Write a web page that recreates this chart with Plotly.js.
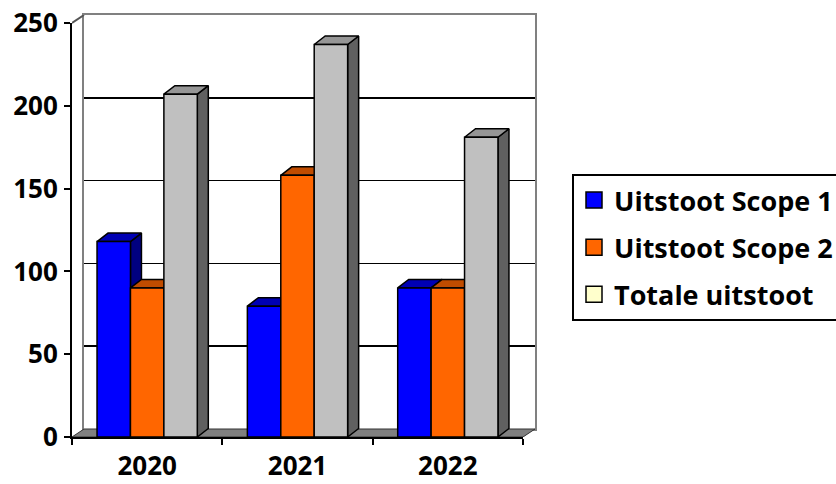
<!DOCTYPE html>
<html><head><meta charset="utf-8">
<script src="https://cdn.plot.ly/plotly-3.0.1.min.js"></script>
<style>html,body{margin:0;padding:0;background:#fff}</style>
</head><body><div id="chart" style="width:836px;height:484px"></div>
<script>
const categories = ['2020', '2021', '2022'];
const seriesNames = ['Uitstoot Scope 1', 'Uitstoot Scope 2', 'Totale uitstoot'];
const scope1 = [118, 79, 90];
const scope2 = [90, 158, 90];
const totaal = [207, 237, 181];
const yTickVals = [0, 50, 100, 150, 200, 250];

const frontColors = ['#0000FF', '#FF6600', '#C0C0C0'];
const topColors = ['#0000B4', '#C04C00', '#969696'];
const sideColors = ['#000080', '#993D00', '#606060'];
const legendColors = ['#0000FF', '#FF6600', '#FFFFCC'];

const W = 836, H = 484, L = 72, R = 301, T = 15, B = 47;
const pw = W - L - R, ph = H - T - B;
const wallDx = 12, wallDy = 8, barDx = 11, barDy = 8.5;
const frontW = pw - wallDx, frontH = ph - wallDy;
const yMax = 250;
const xPx = frontW / categories.length;
const yPx = frontH / yMax;
const x2range = [-0.5, -0.5 + pw / xPx];
const y2range = [0, ph / yPx];
const bargap = 0.333;
const w = (1 - bargap) / 3;
const bdx = barDx / xPx, bdy = barDy / yPx, wdx = wallDx / xPx, wdy = wallDy / yPx;

const font = {family: '"Open Sans", Lato, sans-serif', size: 26, color: '#000', weight: 'bold'};
const legendFont = {family: '"Open Sans", Lato, sans-serif', size: 27, color: '#000', weight: 'bold'};
const series = [scope1, scope2, totaal];
const traces = [];
const n = categories.length;

// back wall subplot holder (no visible marks)
traces.push({type: 'scatter', xaxis: 'x', yaxis: 'y', mode: 'markers', x: [null], y: [null], showlegend: false, hoverinfo: 'skip'});

// floor
traces.push({type: 'scatter', xaxis: 'x2', yaxis: 'y2', mode: 'lines', fill: 'toself',
  x: [-0.5, n - 0.5, n - 0.5 + wdx, -0.5 + wdx, -0.5], y: [0, 0, wdy, wdy, 0],
  fillcolor: '#808080', line: {color: '#333', width: 1}, showlegend: false, hoverinfo: 'skip'});
// left wall top edge
traces.push({type: 'scatter', xaxis: 'x2', yaxis: 'y2', mode: 'lines',
  x: [-0.5, -0.5 + wdx], y: [yMax, yMax + wdy], line: {color: '#555', width: 2}, showlegend: false, hoverinfo: 'skip'});

// 3D faces, drawn left to right
for (let i = 0; i < n; i++) {
  for (let k = 0; k < 3; k++) {
    const v = series[k][i];
    const c = i + (k - 1) * w;
    const xl = c - w / 2, xr = c + w / 2;
    traces.push({type: 'scatter', xaxis: 'x2', yaxis: 'y2', mode: 'lines', fill: 'toself',
      x: [xr, xr + bdx, xr + bdx, xr, xr], y: [0, bdy, v + bdy, v, 0],
      fillcolor: sideColors[k], line: {color: '#000', width: 1.5}, showlegend: false, hoverinfo: 'skip'});
    traces.push({type: 'scatter', xaxis: 'x2', yaxis: 'y2', mode: 'lines', fill: 'toself',
      x: [xl, xl + bdx, xr + bdx, xr, xl], y: [v, v + bdy, v + bdy, v, v],
      fillcolor: topColors[k], line: {color: '#000', width: 1.5}, showlegend: false, hoverinfo: 'skip'});
  }
}

// front faces as bars
for (let k = 0; k < 3; k++) {
  traces.push({type: 'bar', xaxis: 'x3', yaxis: 'y3', x: categories, y: series[k], name: seriesNames[k],
    marker: {color: frontColors[k], line: {color: '#000', width: 1.5}}, showlegend: false});
}
// legend entries
for (let k = 0; k < 3; k++) {
  traces.push({type: 'scatter', xaxis: 'x2', yaxis: 'y2', mode: 'markers', x: [null], y: [null],
    name: seriesNames[k], legendgroup: 'g' + k,
    marker: {symbol: 'square', size: 16, color: legendColors[k], line: {color: '#000', width: 1.5}}});
}

const layout = {
  width: W, height: H, margin: {l: L, r: R, t: T, b: B, autoexpand: false},
  paper_bgcolor: '#fff', plot_bgcolor: 'rgba(0,0,0,0)',
  font: font, showlegend: true, barmode: 'group', bargap: bargap, bargroupgap: 0,
  xaxis: {domain: [wallDx / pw, 1], range: [-0.5, n - 0.5], showgrid: false, zeroline: false, anchor: 'y',
    showticklabels: false, ticks: '', showline: true, mirror: true, linecolor: '#808080', linewidth: 2, fixedrange: true},
  yaxis: {domain: [wallDy / ph, 1], range: [0, yMax], tickvals: yTickVals, showgrid: true, gridcolor: '#000', gridwidth: 1.5, anchor: 'x',
    zeroline: false, showticklabels: false, ticks: '', showline: true, mirror: true, linecolor: '#808080', linewidth: 2, fixedrange: true},
  xaxis2: {domain: [0, 1], range: x2range, visible: false, anchor: 'y2', fixedrange: true},
  yaxis2: {domain: [0, 1], range: y2range, visible: false, anchor: 'x2', fixedrange: true},
  xaxis3: {domain: [0, frontW / pw], range: [-0.5, n - 0.5], type: 'category', anchor: 'y3',
    showline: true, linecolor: '#000', linewidth: 2, ticks: 'outside', tickson: 'boundaries', ticklen: 6, tickwidth: 2, tickcolor: '#000',
    showgrid: false, zeroline: false, tickfont: font, ticklabelstandoff: 5, fixedrange: true},
  yaxis3: {domain: [0, frontH / ph], range: [0, yMax], tickvals: yTickVals, anchor: 'x3',
    showline: true, linecolor: '#000', linewidth: 2, ticks: 'outside', ticklen: 6, tickwidth: 2, tickcolor: '#000',
    showgrid: false, zeroline: false, tickfont: font, ticklabelstandoff: 1, fixedrange: true},
  legend: {x: (572 - L) / pw, y: (H - B - 174) / ph, xanchor: 'left', yanchor: 'top',
    bordercolor: '#000', borderwidth: 2, bgcolor: '#fff', font: legendFont, traceorder: 'grouped', tracegroupgap: 9, itemsizing: 'trace'}
};

Plotly.newPlot('chart', traces, layout, {displayModeBar: false, staticPlot: true});
</script></body></html>
